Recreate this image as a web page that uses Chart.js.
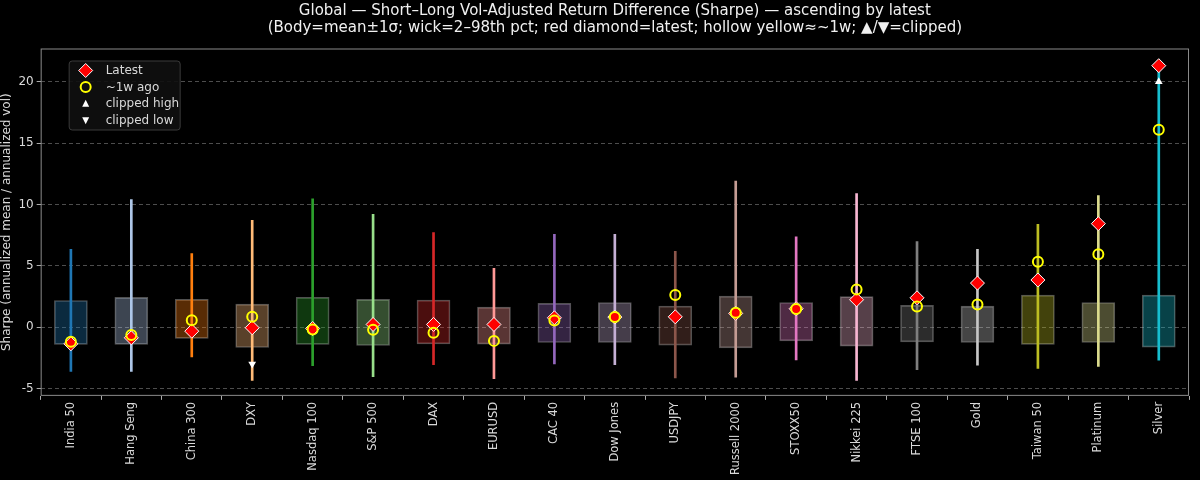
<!DOCTYPE html>
<html lang="en">
<head>
    <meta charset="UTF-8">
    <title>Global - Short-Long Vol-Adjusted Return Difference</title>
    <script src="https://cdn.jsdelivr.net/npm/chart.js"></script>
    <style>
        html, body { margin: 0; padding: 0; background: #000; }
        #wrap { width: 1200px; height: 480px; }
    </style>
</head>
<body>
    <div id="wrap"><canvas id="chart"></canvas></div>
</body>

<script>
// ---- data ----
const categories = ['India 50', 'Hang Seng', 'China 300', 'DXY', 'Nasdaq 100', 'S&P 500', 'DAX', 'EURUSD',
    'CAC 40', 'Dow Jones', 'USDJPY', 'Russell 2000', 'STOXX50', 'Nikkei 225', 'FTSE 100', 'Gold',
    'Taiwan 50', 'Platinum', 'Silver'];

// body = mean ± 1 sigma
const boxLow  = [-1.41, -1.41, -0.92, -1.66, -1.41, -1.50, -1.36, -1.39, -1.25, -1.25, -1.47, -1.69, -1.12, -1.55, -1.20, -1.25, -1.41, -1.25, -1.63];
const boxHigh = [ 2.17,  2.42,  2.26,  1.88,  2.42,  2.26,  2.20,  1.63,  1.93,  2.01,  1.71,  2.53,  2.01,  2.48,  1.77,  1.71,  2.61,  2.01,  2.61];

// wick = 2nd..98th percentile
const wickLow  = [-3.60, -3.60, -2.42, -4.35, -3.13, -4.03, -3.05, -4.19, -3.00, -3.05, -4.14, -4.08, -2.67, -4.35, -3.46, -3.10, -3.37, -3.21, -2.69];
const wickHigh = [ 6.34, 10.40,  6.00,  8.70, 10.45,  9.20,  7.70,  4.79,  7.56,  7.56,  6.18, 11.90,  7.35, 10.88,  6.97,  6.34,  8.38, 10.72, 21.00];

const latest  = [-1.36, -0.87, -0.33, -0.05, -0.11,  0.22,  0.22,  0.22,  0.76,  0.82,  0.84,  1.12,  1.50,  2.23,  2.39,  3.59,  3.84,  8.43, 21.30];
const weekAgo = [-1.20, -0.65,  0.57,  0.84, -0.19, -0.22, -0.46, -1.12,  0.54,  0.82,  2.61,  1.17,  1.47,  3.07,  1.69,  1.85,  5.33,  5.93, 16.08];

const clippedHigh = [null, null, null, null, null, null, null, null, null, null, null, null, null, null, null, null, null, null, 20];
const clippedLow  = [null, null, null, -3, null, null, null, null, null, null, null, null, null, null, null, null, null, null, null];

const palette = ['#1f77b4', '#aec7e8', '#ff7f0e', '#ffbb78', '#2ca02c', '#98df8a', '#d62728', '#ff9896',
    '#9467bd', '#c5b0d5', '#8c564b', '#c49c94', '#e377c2', '#f7b6d2', '#7f7f7f', '#c7c7c7',
    '#bcbd22', '#dbdb8d', '#17becf'];

function withAlpha(hex, a) {
    const r = parseInt(hex.slice(1, 3), 16), g = parseInt(hex.slice(3, 5), 16), b = parseInt(hex.slice(5, 7), 16);
    return `rgba(${r},${g},${b},${a})`;
}

const FONT = "'DejaVu Sans', sans-serif";
const TXT = '#d9d9d9';

// ---- plugins ----
const blackBg = {
    id: 'blackBg',
    beforeDraw(chart) {
        const c = chart.ctx;
        c.save();
        c.fillStyle = '#000';
        c.fillRect(0, 0, chart.width, chart.height);
        c.restore();
    }
};

const frame = {
    id: 'frame',
    afterDraw(chart) {
        const a = chart.chartArea, c = chart.ctx;
        c.save();
        c.strokeStyle = '#8a8a8a';
        c.lineWidth = 1;
        c.strokeRect(a.left + 0.5, a.top + 0.5, a.right - a.left - 1, a.bottom - a.top - 1);
        c.restore();
    }
};

// legend box inside the axes, top-left
const innerLegend = {
    id: 'innerLegend',
    afterDraw(chart) {
        const a = chart.chartArea, c = chart.ctx;
        const x0 = a.left + 28, y0 = a.top + 12, w = 111, h = 69;
        c.save();
        c.fillStyle = 'rgba(16,16,16,0.9)';
        c.strokeStyle = '#3a3a3a';
        c.lineWidth = 1;
        c.beginPath();
        c.roundRect(x0 + 0.5, y0 + 0.5, w, h, 3);
        c.fill();
        c.stroke();

        const items = ['Latest', '~1w ago', 'clipped high', 'clipped low'];
        const mx = x0 + 17, tx = x0 + 37;
        c.font = '12px ' + FONT;
        c.textBaseline = 'middle';
        items.forEach((label, i) => {
            const y = y0 + 10 + i * 16.6;
            if (i === 0) {
                c.beginPath();
                c.moveTo(mx, y - 7); c.lineTo(mx + 7, y); c.lineTo(mx, y + 7); c.lineTo(mx - 7, y); c.closePath();
                c.fillStyle = '#ff0000'; c.fill();
                c.strokeStyle = '#fff'; c.lineWidth = 1; c.stroke();
            } else if (i === 1) {
                c.beginPath();
                c.arc(mx, y, 5, 0, Math.PI * 2);
                c.strokeStyle = '#ffff00'; c.lineWidth = 2; c.stroke();
            } else {
                const s = i === 2 ? -1 : 1;
                c.beginPath();
                c.moveTo(mx, y + s * 4); c.lineTo(mx + 3.5, y - s * 3); c.lineTo(mx - 3.5, y - s * 3); c.closePath();
                c.fillStyle = '#fff'; c.fill();
            }
            c.fillStyle = TXT;
            c.fillText(label, tx, y + 0.5);
        });
        c.restore();
    }
};

// ---- chart ----
new Chart(document.getElementById('chart'), {
    type: 'bar',
    data: {
        labels: categories,
        datasets: [
            {
                label: 'body',
                data: categories.map((_, i) => [boxLow[i], boxHigh[i]]),
                backgroundColor: palette.map(c => withAlpha(c, 0.35)),
                borderColor: 'rgba(200,200,200,0.4)',
                borderWidth: 1,
                borderSkipped: false,
                barThickness: 33,
                grouped: false,
                order: 6
            },
            {
                label: 'wick',
                data: categories.map((_, i) => [wickLow[i], wickHigh[i]]),
                backgroundColor: palette,
                borderWidth: 0,
                barThickness: 2,
                grouped: false,
                order: 5
            },
            {
                type: 'line',
                label: 'clipped high',
                data: clippedHigh,
                showLine: false,
                pointStyle: 'triangle',
                pointRadius: 4.5,
                pointBackgroundColor: '#fff',
                pointBorderColor: '#fff',
                pointBorderWidth: 0,
                order: 4
            },
            {
                type: 'line',
                label: 'clipped low',
                data: clippedLow,
                showLine: false,
                pointStyle: 'triangle',
                rotation: 180,
                pointRadius: 4.5,
                pointBackgroundColor: '#fff',
                pointBorderColor: '#fff',
                pointBorderWidth: 0,
                order: 4
            },
            {
                type: 'line',
                label: 'Latest',
                data: latest,
                showLine: false,
                pointStyle: 'rectRot',
                pointRadius: 7,
                pointBackgroundColor: '#ff0000',
                pointBorderColor: '#ffffff',
                pointBorderWidth: 1,
                order: 3
            },
            {
                type: 'line',
                label: '~1w ago',
                data: weekAgo,
                showLine: false,
                pointStyle: 'circle',
                pointRadius: 5,
                pointBackgroundColor: 'rgba(0,0,0,0)',
                pointBorderColor: '#ffff00',
                pointBorderWidth: 2,
                order: 2
            }
        ]
    },
    options: {
        responsive: true,
        maintainAspectRatio: false,
        devicePixelRatio: 1,
        animation: false,
        layout: { padding: { left: 0, right: 11, top: 0, bottom: 3 } },
        plugins: {
            legend: { display: false },
            tooltip: { enabled: false },
            title: {
                display: true,
                fullSize: false,
                text: [
                    'Global — Short–Long Vol-Adjusted Return Difference (Sharpe) — ascending by latest',
                    '(Body=mean±1σ; wick=2–98th pct; red diamond=latest; hollow yellow≈~1w; ▲/▼=clipped)'
                ],
                color: '#f0f0f0',
                font: { family: FONT, size: 15, weight: 'normal', lineHeight: 1.15 },
                padding: { top: 2, bottom: 12 }
            }
        },
        scales: {
            x: {
                offset: true,
                grid: { display: true, drawOnChartArea: false, tickLength: 4, tickColor: '#aaa' },
                border: { display: false },
                ticks: {
                    color: TXT,
                    font: { family: FONT, size: 11.5 },
                    minRotation: 90,
                    maxRotation: 90,
                    autoSkip: false,
                    padding: 2
                }
            },
            y: {
                min: -5.6,
                max: 22.7,
                grid: {
                    color: 'rgba(255,255,255,0.3)',
                    tickColor: '#aaa',
                    tickLength: 4,
                    tickBorderDash: [],
                    lineWidth: 1
                },
                border: { display: false, dash: [4, 3] },
                ticks: {
                    stepSize: 5,
                    includeBounds: false,
                    color: TXT,
                    font: { family: FONT, size: 12 },
                    padding: 3
                },
                title: {
                    display: true,
                    text: 'Sharpe (annualized mean / annualized vol)',
                    color: TXT,
                    font: { family: FONT, size: 12 },
                    padding: { top: 0, bottom: 1 }
                }
            }
        }
    },
    plugins: [blackBg, frame, innerLegend]
});
</script>
</html>
